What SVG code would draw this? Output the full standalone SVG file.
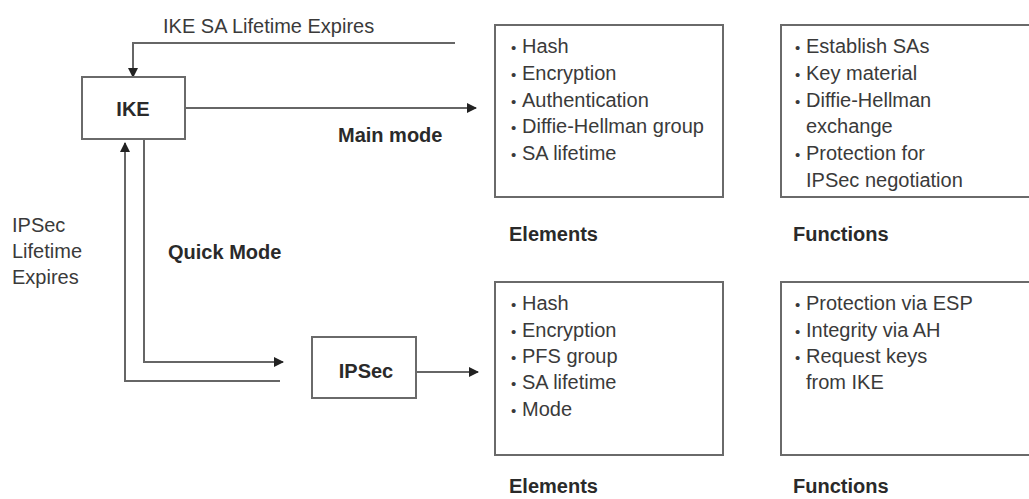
<svg xmlns="http://www.w3.org/2000/svg" width="1029" height="499" viewBox="0 0 1029 499">
  <style>
    .box { fill: #fff; stroke: #6a6a6a; stroke-width: 2; }
    .wire { fill: none; stroke: #666; stroke-width: 2; }
    .txt { font-family: "Liberation Sans", Arial, sans-serif; font-size: 20px; fill: #3a3a3a; }
    .bold { font-family: "Liberation Sans", Arial, sans-serif; font-size: 20px; font-weight: bold; fill: #2a2a2a; }
    .dot { font-size: 15px; }
  </style>
  <defs>
    <marker id="head" viewBox="0 0 10 10" refX="9" refY="5" markerWidth="10" markerHeight="10" markerUnits="userSpaceOnUse" orient="auto">
      <path d="M0,0 L10,5 L0,10 Z" fill="#222"/>
    </marker>
  </defs>
  <rect width="1029" height="499" fill="#fff"/>

  <!-- connectors -->
  <g id="connectors">
    <polyline class="wire" points="455,43 133,43 133,77" marker-end="url(#head)"/>
    <line class="wire" x1="185" y1="108" x2="476" y2="108" marker-end="url(#head)"/>
    <polyline class="wire" points="144,139 144,362 283,362" marker-end="url(#head)"/>
    <polyline class="wire" points="280,381 125,381 125,143" marker-end="url(#head)"/>
    <line class="wire" x1="416" y1="372" x2="478" y2="372" marker-end="url(#head)"/>
  </g>

  <!-- free labels -->
  <text class="txt" x="163" y="33">IKE SA Lifetime Expires</text>
  <text class="bold" x="338" y="142">Main mode</text>
  <text class="bold" x="168" y="259">Quick Mode</text>
  <text class="txt" x="12" y="232">IPSec</text>
  <text class="txt" x="12" y="258">Lifetime</text>
  <text class="txt" x="12" y="284">Expires</text>

  <g id="ike">
    <rect class="box" x="82" y="77" width="103" height="62"/>
    <text class="bold" x="133" y="116" text-anchor="middle">IKE</text>
  </g>

  <g id="ipsec">
    <rect class="box" x="312" y="337" width="104" height="61"/>
    <text class="bold" x="366" y="378" text-anchor="middle">IPSec</text>
  </g>

  <g id="ike-elements">
    <rect class="box" x="495" y="25" width="228" height="172"/>
    <text class="txt" y="53"><tspan class="dot" x="511">•</tspan><tspan x="522">Hash</tspan></text>
    <text class="txt" y="80"><tspan class="dot" x="511">•</tspan><tspan x="522">Encryption</tspan></text>
    <text class="txt" y="107"><tspan class="dot" x="511">•</tspan><tspan x="522">Authentication</tspan></text>
    <text class="txt" y="133"><tspan class="dot" x="511">•</tspan><tspan x="522">Diffie-Hellman group</tspan></text>
    <text class="txt" y="160"><tspan class="dot" x="511">•</tspan><tspan x="522">SA lifetime</tspan></text>
    <text class="bold" x="509" y="241">Elements</text>
  </g>

  <g id="ike-functions">
    <rect class="box" x="781" y="25" width="260" height="172"/>
    <text class="txt" y="53"><tspan class="dot" x="795">•</tspan><tspan x="806">Establish SAs</tspan></text>
    <text class="txt" y="80"><tspan class="dot" x="795">•</tspan><tspan x="806">Key material</tspan></text>
    <text class="txt" y="107"><tspan class="dot" x="795">•</tspan><tspan x="806">Diffie-Hellman</tspan></text>
    <text class="txt" x="806" y="133">exchange</text>
    <text class="txt" y="160"><tspan class="dot" x="795">•</tspan><tspan x="806">Protection for</tspan></text>
    <text class="txt" x="806" y="187">IPSec negotiation</text>
    <text class="bold" x="793" y="241">Functions</text>
  </g>

  <g id="ipsec-elements">
    <rect class="box" x="495" y="282" width="228" height="173"/>
    <text class="txt" y="310"><tspan class="dot" x="511">•</tspan><tspan x="522">Hash</tspan></text>
    <text class="txt" y="337"><tspan class="dot" x="511">•</tspan><tspan x="522">Encryption</tspan></text>
    <text class="txt" y="363"><tspan class="dot" x="511">•</tspan><tspan x="522">PFS group</tspan></text>
    <text class="txt" y="389"><tspan class="dot" x="511">•</tspan><tspan x="522">SA lifetime</tspan></text>
    <text class="txt" y="416"><tspan class="dot" x="511">•</tspan><tspan x="522">Mode</tspan></text>
    <text class="bold" x="509" y="493">Elements</text>
  </g>

  <g id="ipsec-functions">
    <rect class="box" x="781" y="282" width="260" height="173"/>
    <text class="txt" y="310"><tspan class="dot" x="795">•</tspan><tspan x="806">Protection via ESP</tspan></text>
    <text class="txt" y="337"><tspan class="dot" x="795">•</tspan><tspan x="806">Integrity via AH</tspan></text>
    <text class="txt" y="363"><tspan class="dot" x="795">•</tspan><tspan x="806">Request keys</tspan></text>
    <text class="txt" x="806" y="389">from IKE</text>
    <text class="bold" x="793" y="493">Functions</text>
  </g>
</svg>
